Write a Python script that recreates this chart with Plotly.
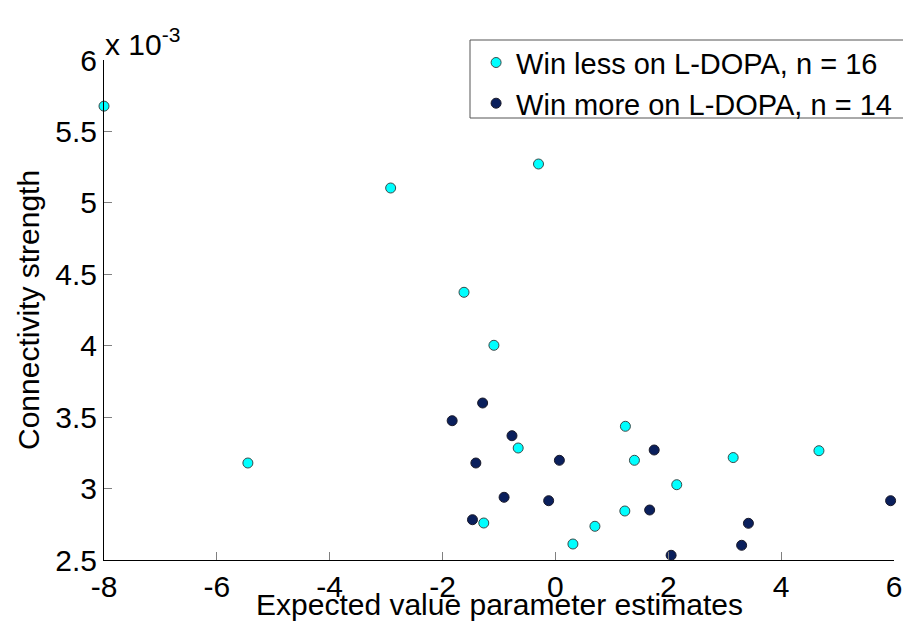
import plotly.graph_objects as go

# Data (y values in units of connectivity strength)
less_x = [-8.0, -5.45, -2.92, -1.62, -1.09, -0.30, -1.27, -0.66, 0.31, 0.70, 1.24, 1.23, 1.40, 2.15, 3.15, 4.67]
less_y = [5.677e-3, 3.179e-3, 5.104e-3, 4.374e-3, 4.003e-3, 5.272e-3, 2.759e-3, 3.284e-3, 2.612e-3, 2.736e-3, 3.436e-3, 2.843e-3, 3.198e-3, 3.027e-3, 3.217e-3, 3.265e-3]
more_x = [-1.83, -1.29, -1.41, -1.47, -0.91, -0.77, -0.12, 0.07, 1.67, 1.75, 2.05, 3.30, 3.42, 5.94]
more_y = [3.475e-3, 3.599e-3, 3.179e-3, 2.782e-3, 2.939e-3, 3.370e-3, 2.915e-3, 3.198e-3, 2.850e-3, 3.270e-3, 2.533e-3, 2.603e-3, 2.757e-3, 2.915e-3]

x_ticks = [-8, -6, -4, -2, 0, 2, 4, 6]
y_ticks = [2.5e-3, 3e-3, 3.5e-3, 4e-3, 4.5e-3, 5e-3, 5.5e-3, 6e-3]
y_tick_labels = ["2.5", "3", "3.5", "4", "4.5", "5", "5.5", "6"]

names = ["Win less on L-DOPA, n = 16", "Win more on L-DOPA, n = 14"]
colors = ["#00ffff", "#0a1f5c"]

FONT = "Liberation Sans, Arial, sans-serif"
FS = 30

fig = go.Figure()
fig.add_trace(go.Scatter(x=less_x, y=less_y, mode="markers", name=names[0],
                         marker=dict(color=colors[0], size=10, line=dict(color="#3a4a4a", width=1)),
                         cliponaxis=False))
fig.add_trace(go.Scatter(x=more_x, y=more_y, mode="markers", name=names[1],
                         marker=dict(color=colors[1], size=10, line=dict(color="#1a1a2a", width=1)),
                         cliponaxis=False))

fig.update_layout(
    width=911, height=622,
    margin=dict(l=96, r=25, t=52, b=70, autoexpand=False),
    paper_bgcolor="white", plot_bgcolor="white",
    font=dict(family=FONT, size=FS, color="black"),
    showlegend=True,
    legend=dict(x=0.471, y=1.0457, xanchor="left", yanchor="top",
                borderwidth=0, bgcolor="rgba(0,0,0,0)",
                font=dict(family=FONT, size=29), tracegroupgap=0,
                itemsizing="trace"),
    shapes=[
        dict(type="rect", xref="paper", yref="paper", x0=0.4633, x1=1.0304, y0=0.884, y1=1.04,
             line=dict(color="#555555", width=1), fillcolor="white", layer="above"),
    ],
    xaxis=dict(range=[-8, 6], tickvals=x_ticks, ticktext=[str(v) for v in x_ticks],
               showgrid=False, zeroline=False, showline=True, linecolor="black", linewidth=1,
               ticks="inside", ticklen=8, tickcolor="#808080", tickwidth=1,
               tickfont=dict(family=FONT, size=FS), mirror=False),
    yaxis=dict(range=[2.5e-3, 6e-3], tickvals=y_ticks, ticktext=y_tick_labels,
               showgrid=False, zeroline=False, showline=True, linecolor="black", linewidth=1,
               ticks="inside", ticklen=8, tickcolor="#808080", tickwidth=1,
               tickfont=dict(family=FONT, size=FS), mirror=False),
    annotations=[
        dict(text="Expected value parameter estimates", xref="paper", yref="paper",
             x=0.5, y=0, yshift=-26, xanchor="center", yanchor="top", showarrow=False,
             font=dict(family=FONT, size=FS)),
        dict(text="Connectivity strength", xref="paper", yref="paper",
             x=0, xshift=-76, y=0.5, xanchor="center", yanchor="middle", textangle=-90,
             showarrow=False, font=dict(family=FONT, size=FS)),
        dict(text="x 10<sup>-3</sup>", xref="paper", yref="paper",
             x=0, xshift=-1, y=1, yshift=-3, xanchor="left", yanchor="bottom", showarrow=False,
             font=dict(family=FONT, size=FS)),
    ],
)

fig.write_html("out.html")
